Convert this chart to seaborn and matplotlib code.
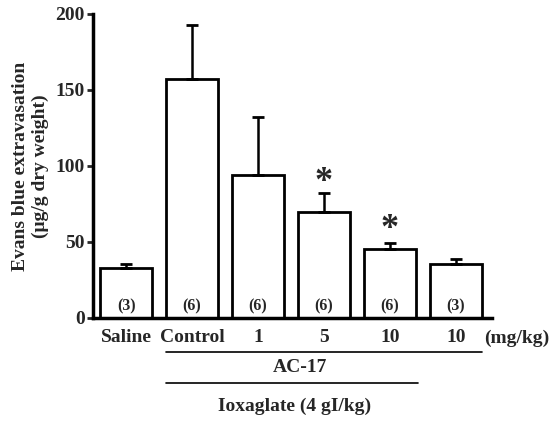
import numpy as np
import pandas as pd
import matplotlib
matplotlib.use("Agg")
import matplotlib.pyplot as plt
import seaborn as sns

groups = ["Saline", "Control", "AC1", "AC5", "AC10", "AC10b"]
tick_labels = ["Saline", "Control", "1", "5", "10", "10"]
means = [33, 157, 94, 69.5, 45.5, 35.5]
sem = [2.5, 36, 38, 13, 4, 3]
n_labels = ["(3)", "(6)", "(6)", "(6)", "(6)", "(3)"]
star_groups = [3, 4]
star_y = [89, 58]

df = pd.DataFrame({"group": groups, "value": means})

sns.set_style("white")
plt.rcParams["font.family"] = ["Liberation Serif", "DejaVu Serif"]
plt.rcParams["font.weight"] = "bold"

fig = plt.figure(figsize=(5.51, 4.24), dpi=100)
ax = fig.add_axes([0.169, 0.25, 0.724, 0.717])

sns.barplot(data=df, x="group", y="value", order=groups, color="white",
            saturation=1, edgecolor="black", linewidth=2, width=0.79,
            errorbar=None, ax=ax)
ax.errorbar(np.arange(len(groups)), means, yerr=[np.zeros(len(sem)), sem],
            fmt="none", ecolor="black", elinewidth=1.8, capsize=4.5, capthick=2)

# sample sizes inside the bars
for i, t in enumerate(n_labels):
    ax.text(i, 7.5, t, ha="center", va="center", fontsize=11.5, fontweight="bold")

# significance stars
for g, y in zip(star_groups, star_y):
    ax.text(g, y, "*", ha="center", va="center", fontsize=26, fontweight="bold")

ax.set_xlim(-0.5, 5.55)
ax.set_ylim(0, 200)
ax.set_yticks([0, 50, 100, 150, 200])
ax.set_xticks(range(len(groups)))
ax.set_xticklabels(tick_labels, fontsize=14, fontweight="bold")
ax.tick_params(axis="x", length=0, pad=8)
ax.tick_params(axis="y", direction="out", length=4, width=2, pad=2, labelsize=14, left=True)
for lab in ax.get_yticklabels():
    lab.set_fontweight("bold")

for s in ["top", "right"]:
    ax.spines[s].set_visible(False)
for s in ["left", "bottom"]:
    ax.spines[s].set_linewidth(2.5)
    ax.spines[s].set_color("black")

ax.set_xlabel("")
ax.set_ylabel("Evans blue extravasation\n(\u03bcg/g dry weight)", fontsize=14,
              fontweight="bold", linespacing=1.2)
ax.yaxis.set_label_coords(-0.11, 0.5)

# group annotations below the axis
tr = ax.get_xaxis_transform()
ax.text(5.92, -0.066, "(mg/kg)", transform=tr, ha="center", va="center",
        fontsize=14, fontweight="bold")
ax.plot([0.6, 5.4], [-0.112, -0.112], transform=tr, color="black", lw=1.2, clip_on=False)
ax.text(2.64, -0.164, "AC-17", transform=tr, ha="center", va="center",
        fontsize=14, fontweight="bold")
ax.plot([0.6, 4.42], [-0.214, -0.214], transform=tr, color="black", lw=1.2, clip_on=False)
ax.text(2.56, -0.29, "Ioxaglate (4 gI/kg)", transform=tr, ha="center", va="center",
        fontsize=14, fontweight="bold")

fig.savefig("out.png", dpi=100)
